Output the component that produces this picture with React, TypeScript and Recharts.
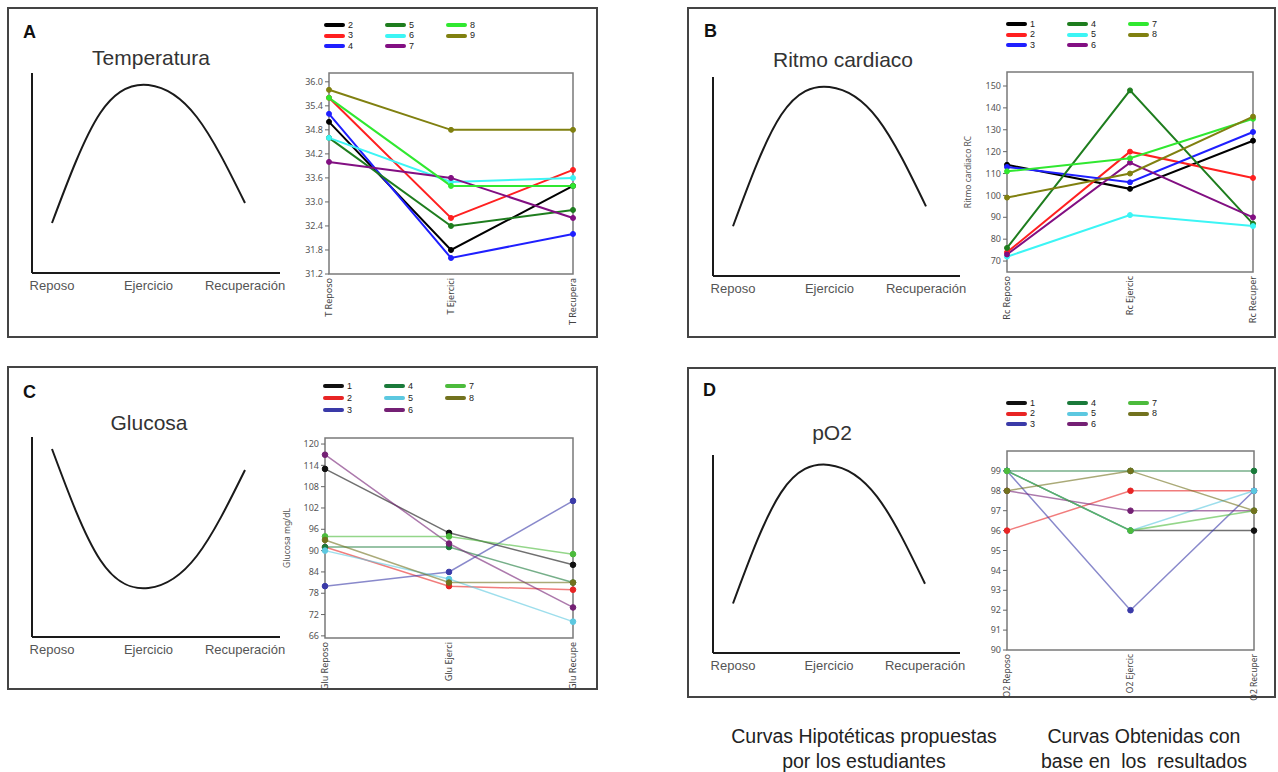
import React from 'react';
import { LineChart, Line, XAxis, YAxis, Legend, ReferenceArea } from 'recharts';

const FONT = '"Liberation Sans", Arial, sans-serif';
const TICK_FONT = '"Noto Sans", "Open Sans", sans-serif';

// hypothetical curves proposed by the students (0-10 arbitrary scale)
const STAGES = ['Reposo', 'Ejercicio', 'Recuperación'];
const HYPO_X = [0, 1, 2, 3, 4];
const HYPO_TEMP = [2.5, 8.0, 9.4, 7.8, 3.5];
const HYPO_RC = [2.5, 8.1, 9.5, 7.9, 3.5];
const HYPO_GLU = [9.4, 3.85, 2.45, 4.05, 8.35];
const HYPO_PO2 = [2.5, 8.1, 9.5, 7.9, 3.5];

// measured results
const TEMP_CATS = ['T Reposo', 'T Ejercici', 'T Recupera'];
const TEMP_NAMES = ['2', '3', '4', '5', '6', '7', '8', '9'];
const TEMP_VALUES = [
  [35.0, 31.8, 33.4],
  [35.6, 32.6, 33.8],
  [35.2, 31.6, 32.2],
  [34.6, 32.4, 32.8],
  [34.6, 33.5, 33.6],
  [34.0, 33.6, 32.6],
  [35.6, 33.4, 33.4],
  [35.8, 34.8, 34.8],
];
const TEMP_TICKS = [31.2, 31.8, 32.4, 33.0, 33.6, 34.2, 34.8, 35.4, 36.0];

const RC_CATS = ['Rc Reposo', 'Rc Ejercic', 'Rc Recuper'];
const RC_NAMES = ['1', '2', '3', '4', '5', '6', '7', '8'];
const RC_VALUES = [
  [114, 103, 125],
  [74, 120, 108],
  [113, 106, 129],
  [76, 148, 87],
  [72, 91, 86],
  [73, 115, 90],
  [111, 117, 135],
  [99, 110, 136],
];
const RC_TICKS = [70, 80, 90, 100, 110, 120, 130, 140, 150];

const GLU_CATS = ['Glu Reposo', 'Glu Ejerci', 'Glu Recupe'];
const GLU_NAMES = ['1', '2', '3', '4', '5', '6', '7', '8'];
const GLU_VALUES = [
  [113, 95, 86],
  [91, 80, 79],
  [80, 84, 104],
  [91, 91, 81],
  [90, 82, 70],
  [117, 92, 74],
  [94, 94, 89],
  [93, 81, 81],
];
const GLU_TICKS = [66, 72, 78, 84, 90, 96, 102, 108, 114, 120];

const PO2_CATS = ['O2 Reposo', 'O2 Ejercic', 'O2 Recuper'];
const PO2_NAMES = ['1', '2', '3', '4', '5', '6', '7', '8'];
const PO2_VALUES = [
  [99, 96, 96],
  [96, 98, 98],
  [99, 92, 98],
  [99, 99, 99],
  [99, 96, 98],
  [98, 97, 97],
  [99, 96, 97],
  [98, 99, 97],
];
const PO2_TICKS = [90, 91, 92, 93, 94, 95, 96, 97, 98, 99];

const BRIGHT = ['#000000', '#ff2020', '#1f1fff', '#1e7d1e', '#3cf5f5', '#820f82', '#30e830', '#808010'];
const MUTED = ['#111111', '#e82424', '#3a3aa8', '#1a7a3a', '#5cc8e0', '#742074', '#4cbb3c', '#72721e'];

function Hypo({ axisX, axisTop, axisBottom, axisRight, padRight, values }: any) {
  const data = HYPO_X.map((x, i) => ({ x, v: values[i] }));
  const width = axisRight - axisX + 42;
  const height = axisBottom - axisTop + 40;
  return (
    <div style={{ position: 'absolute', left: axisX - 32, top: axisTop - 13 }}>
      <LineChart width={width} height={height} data={data} margin={{ top: 13, right: 10, bottom: 0, left: 0 }}>
        <XAxis
          type="number"
          dataKey="x"
          domain={[0, 4]}
          ticks={[0, 2, 4]}
          interval={0}
          tickFormatter={(v: number) => STAGES[v / 2]}
          padding={{ left: 20, right: padRight }}
          axisLine={{ stroke: '#1a1a1a', strokeWidth: 2 }}
          tickLine={false}
          height={27}
          tick={{ fontSize: 13, fill: '#555', fontFamily: FONT }}
        />
        <YAxis domain={[0, 10]} width={32} tick={false} tickLine={false} axisLine={{ stroke: '#1a1a1a', strokeWidth: 2 }} />
        <Line type="natural" dataKey="v" stroke="#1a1a1a" strokeWidth={2} dot={false} activeDot={false} isAnimationActive={false} />
      </LineChart>
    </div>
  );
}

function RotTick({ x, y, payload, size }: any) {
  return (
    <g transform={`translate(${x},${y})`}>
      <text transform="rotate(-90)" textAnchor="end" dy="0.35em" fontSize={size} fill="#444" fontFamily={TICK_FONT}>
        {payload.value}
      </text>
    </g>
  );
}

function GridLegend({ payload, rowH }: any) {
  return (
    <div
      style={{
        display: 'grid',
        gridTemplateRows: `repeat(3, ${rowH}px)`,
        gridAutoFlow: 'column',
        gridAutoColumns: '61px',
        fontFamily: FONT,
        fontSize: 9,
        color: '#222',
      }}
    >
      {(payload || []).map((p: any) => (
        <div key={p.value} style={{ display: 'flex', alignItems: 'center', lineHeight: 1 }}>
          <span style={{ display: 'inline-block', width: 21, height: 4, borderRadius: 2, background: p.color, marginRight: 3 }} />
          <span>{p.value}</span>
        </div>
      ))}
    </div>
  );
}

function Results(props: any) {
  const {
    left, top, width, height, margin, yWidth, xHeight, cats, names, values, domain, ticks, fmt,
    yLabel, labelOffset, colors, lineWidth, lineOpacity, dotR, legendLeft, legendTop, rowH, xFont = 9,
  } = props;
  const data = cats.map((c: string, i: number) => {
    const row: any = { cat: c };
    names.forEach((n: string, j: number) => {
      row[`s${n}`] = values[j][i];
    });
    return row;
  });
  return (
    <div style={{ position: 'absolute', left, top }}>
      <LineChart width={width} height={height} data={data} margin={margin}>
        <XAxis
          dataKey="cat"
          interval={0}
          tickLine={false}
          axisLine={false}
          height={xHeight}
          tickSize={2}
          tickMargin={2}
          tick={(p: any) => <RotTick {...p} size={xFont} />}
        />
        <YAxis
          domain={domain}
          ticks={ticks}
          interval={0}
          allowDataOverflow
          width={yWidth}
          axisLine={false}
          tickLine={{ stroke: '#666' }}
          tickSize={4}
          tickMargin={2}
          tick={{ fontSize: 9, fill: '#555', fontFamily: TICK_FONT }}
          tickFormatter={fmt}
          label={
            yLabel
              ? {
                  value: yLabel,
                  angle: -90,
                  position: 'insideLeft',
                  offset: labelOffset,
                  style: { textAnchor: 'middle', fontSize: 8.5, fill: '#555', fontFamily: TICK_FONT },
                }
              : undefined
          }
        />
        <ReferenceArea y1={domain[0]} y2={domain[1]} fill="none" stroke="#7a7a7a" strokeWidth={1.5} />
        <Legend
          layout="vertical"
          align="center"
          verticalAlign="middle"
          wrapperStyle={{ left: legendLeft, top: legendTop, width: 'auto', height: 'auto' }}
          content={(p: any) => <GridLegend payload={p.payload} rowH={rowH} />}
        />
        {names.map((n: string, i: number) => (
          <Line
            key={n}
            type="linear"
            dataKey={`s${n}`}
            name={n}
            stroke={colors[i]}
            strokeWidth={lineWidth}
            strokeOpacity={lineOpacity}
            dot={{ r: dotR, fill: colors[i], stroke: colors[i], strokeOpacity: 1, fillOpacity: 1, strokeWidth: 1 }}
            activeDot={false}
            isAnimationActive={false}
          />
        ))}
      </LineChart>
    </div>
  );
}

const boxStyle = (left: number, top: number, width: number, height: number): React.CSSProperties => ({
  position: 'absolute',
  left,
  top,
  width,
  height,
  border: '2px solid #444',
  boxSizing: 'border-box',
});

function Letter({ x, y, text }: any) {
  return (
    <div style={{ position: 'absolute', left: x, top: y, fontFamily: FONT, fontWeight: 700, fontSize: 18, lineHeight: '18px', color: '#111' }}>
      {text}
    </div>
  );
}

function Title({ cx, y, text }: any) {
  return (
    <div
      style={{
        position: 'absolute',
        left: cx,
        top: y,
        transform: 'translateX(-50%)',
        whiteSpace: 'nowrap',
        fontFamily: FONT,
        fontSize: 21,
        lineHeight: '21px',
        color: '#333',
      }}
    >
      {text}
    </div>
  );
}

const captionStyle = (cx: number): React.CSSProperties => ({
  position: 'absolute',
  left: cx,
  top: 724,
  transform: 'translateX(-50%)',
  whiteSpace: 'pre',
  textAlign: 'center',
  fontFamily: FONT,
  fontSize: 19.5,
  lineHeight: '25px',
  color: '#222',
});

export default function App() {
  return (
    <div style={{ position: 'absolute', left: 0, top: 0, width: 1278, height: 772, background: '#fff', overflow: 'hidden' }}>
      <div style={boxStyle(7, 7, 591, 331)} />
      <div style={boxStyle(687, 7, 589, 331)} />
      <div style={boxStyle(7, 366, 591, 324)} />
      <div style={boxStyle(687, 367, 589, 331)} />

      <Letter x={23} y={23} text="A" />
      <Letter x={704} y={22} text="B" />
      <Letter x={23} y={383} text="C" />
      <Letter x={703} y={381} text="D" />

      <Title cx={151} y={47} text="Temperatura" />
      <Title cx={843} y={49} text="Ritmo cardiaco" />
      <Title cx={149} y={412} text="Glucosa" />
      <Title cx={832} y={422} text="pO2" />

      <Hypo axisX={32} axisTop={73} axisBottom={273} axisRight={280} padRight={35} values={HYPO_TEMP} />
      <Hypo axisX={713} axisTop={77} axisBottom={276} axisRight={960} padRight={34} values={HYPO_RC} />
      <Hypo axisX={32} axisTop={437} axisBottom={637} axisRight={280} padRight={35} values={HYPO_GLU} />
      <Hypo axisX={713} axisTop={455} axisBottom={653} axisRight={960} padRight={35} values={HYPO_PO2} />

      <Results
        left={290} top={10} width={310} height={325}
        margin={{ top: 63, right: 27, bottom: 11, left: 9 }}
        yWidth={30} xHeight={50}
        cats={TEMP_CATS} names={TEMP_NAMES} values={TEMP_VALUES}
        domain={[31.2, 36.22]} ticks={TEMP_TICKS} fmt={(v: number) => v.toFixed(1)}
        colors={BRIGHT} lineWidth={2} lineOpacity={1} dotR={2.5}
        legendLeft={34} legendTop={10} rowH={10.5}
      />
      <Results
        left={960} top={10} width={310} height={325}
        margin={{ top: 62, right: 17, bottom: 11, left: 2 }}
        yWidth={45} xHeight={52}
        cats={RC_CATS} names={RC_NAMES} values={RC_VALUES}
        domain={[65, 156.4]} ticks={RC_TICKS}
        yLabel="Ritmo cardiaco RC" labelOffset={6}
        colors={BRIGHT} lineWidth={2} lineOpacity={1} dotR={2.5}
        legendLeft={46} legendTop={9} rowH={10.5}
      />
      <Results
        left={280} top={370} width={320} height={320}
        margin={{ top: 68, right: 27, bottom: 7, left: 0 }}
        yWidth={45} xHeight={45}
        cats={GLU_CATS} names={GLU_NAMES} values={GLU_VALUES}
        domain={[65.4, 121.7]} ticks={GLU_TICKS}
        yLabel="Glucosa mg/dL" labelOffset={7}
        colors={MUTED} lineWidth={1.5} lineOpacity={0.6} dotR={2.8}
        legendLeft={43} legendTop={10} rowH={12}
      />
      <Results
        left={960} top={380} width={310} height={324}
        margin={{ top: 71, right: 16, bottom: 10, left: 2 }}
        yWidth={45} xHeight={44}
        cats={PO2_CATS} names={PO2_NAMES} values={PO2_VALUES}
        domain={[90, 100]} ticks={PO2_TICKS}
        colors={MUTED} lineWidth={1.5} lineOpacity={0.6} dotR={2.8}
        legendLeft={46} legendTop={18} rowH={10.5} xFont={8.5}
      />

      <div style={captionStyle(864)}>{'Curvas Hipotéticas propuestas\npor los estudiantes'}</div>
      <div style={captionStyle(1144)}>{'Curvas Obtenidas con\nbase en  los  resultados'}</div>
    </div>
  );
}
